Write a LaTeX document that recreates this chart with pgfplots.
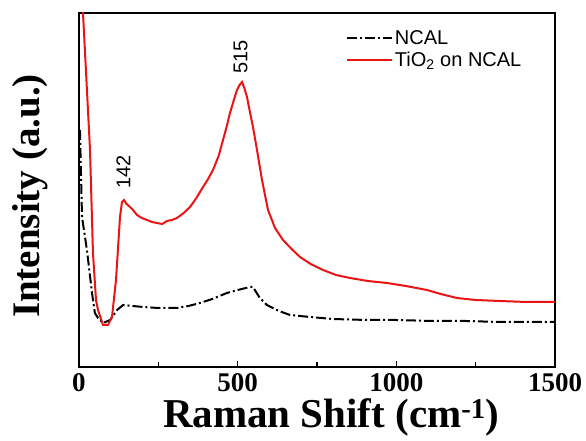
\documentclass[border=0pt]{standalone}
\usepackage{fontspec}
\setmainfont{Liberation Serif}
\newfontfamily\arialf{Liberation Sans}
\usepackage{pgfplots}
\pgfplotsset{compat=1.18}
\definecolor{myred}{RGB}{235,20,20}
\begin{document}
\begin{tikzpicture}
\path[use as bounding box] (-79pt,-74pt) rectangle (507pt,367pt);
\begin{axis}[
  at={(0pt,0pt)}, anchor=south west,
  width=476pt, height=354pt, scale only axis,
  xmin=0, xmax=1500, ymin=0, ymax=354,
  xtick={0,500,1000,1500}, minor xtick={250,750,1250},
  xtick pos=bottom, ytick=\empty,
  tick align=inside,
  major tick length=6pt, minor tick length=5pt,
  every tick/.style={black, line width=1.5pt},
  axis line style={line width=1.6pt},
  /pgf/number format/assume math mode=true,
  /pgf/number format/set thousands separator={},
  xticklabel style={font=\fontsize{27}{30}\selectfont\bfseries, yshift=-3pt},
  xlabel={Raman Shift (cm\textsuperscript{-1})},
  ylabel={Intensity (a.u.)},
  xlabel style={font=\fontsize{41}{45}\selectfont\bfseries, at={(axis description cs:0.53,0)}, anchor=base, yshift=-61pt},
  ylabel style={font=\fontsize{39}{43}\selectfont\bfseries, at={(axis description cs:-0.082,0.483)}, anchor=base},
  legend style={at={(axis description cs:0.554,0.962)}, anchor=north west, draw=none, fill=none,
    font=\arialf\fontsize{20}{24}\selectfont, cells={anchor=west}, row sep=2pt},
  legend image code/.code={\draw[#1] (0pt,0pt) -- (45pt,0pt);},
  clip=true,
]
\addplot[black, line width=2pt, dash pattern=on 10pt off 3pt on 2pt off 3pt] coordinates {
(3,237) (9.5,150) (25,117) (41,74) (50,54) (60,49) (76,44) (98,47) (120,57) (139,62)
(170,61) (202,60) (250,59) (309,59) (345,61) (381,64) (420,68) (466,74) (500,77) (539,80) (548,80)
(570,69) (592,62) (630,56) (665,52) (728,50) (800,48) (908,47) (1000,47) (1116,46) (1220,46) (1327,45) (1420,45) (1500,45)
};
\addlegendentry{NCAL}
\addplot[myred, line width=2pt] coordinates {
(9.5,377) (12.6,354) (34.7,217) (44,114) (53.6,67) (59.9,57) (75.6,42) (91.4,42) (104,50)
(116.6,87) (129.2,150) (135.5,165) (141.8,167) (150,163) (160.7,160) (170,157) (182.8,152) (198,149)
(214.3,147) (230,145) (245.8,144) (262,143) (277.3,146) (293,147) (308.8,149) (330,154) (349.8,160)
(370,169) (390.8,180) (405,187) (422.3,197) (440,211) (453.8,227) (465,240) (475.8,254) (488,267) (497.9,277)
(506,282) (513.7,285) (521,279) (529.4,270) (538,256) (548.3,240) (560.9,217) (576.7,187) (595.6,157)
(617.7,139) (642.9,127) (670,118) (696.4,110) (730,103) (768.9,97) (810,92) (854,89) (910,86) (970.6,84)
(1030,81) (1096.7,77) (1140,73) (1191,69) (1250,67) (1326.7,66) (1410,65) (1500,65)
};
\addlegendentry{TiO\textsubscript{2} on NCAL}
\node[rotate=90, font=\arialf\fontsize{20}{24}\selectfont] at (axis cs:140,195) {142};
\node[rotate=90, font=\arialf\fontsize{20}{24}\selectfont] at (axis cs:509,310) {515};
\end{axis}
\end{tikzpicture}
\end{document}
